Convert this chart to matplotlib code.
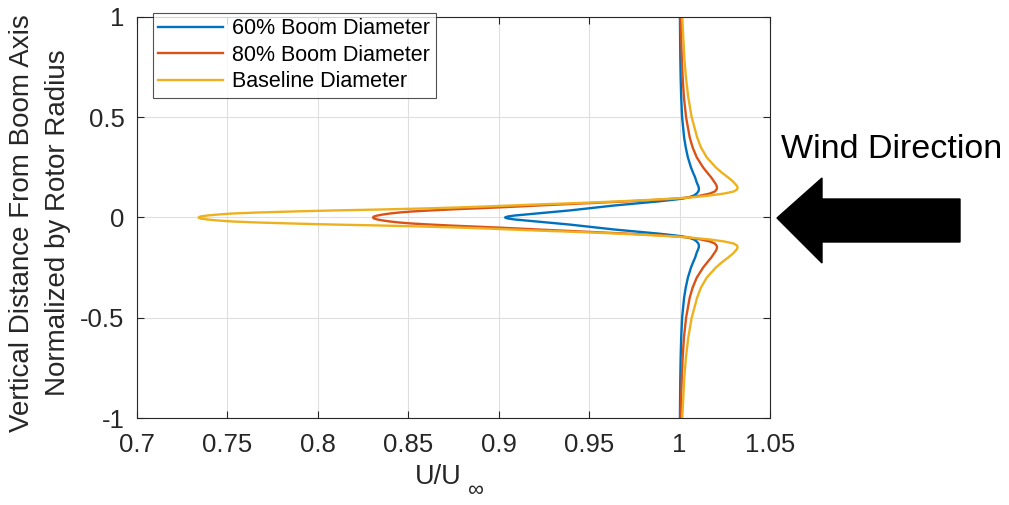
import numpy as np
import matplotlib
matplotlib.use("Agg")
import matplotlib.pyplot as plt
from matplotlib.patches import Polygon

plt.rcParams["font.family"] = ["Liberation Sans", "DejaVu Sans"]

# ----------------------------------
# Data (upper half of each profile)
# ----------------------------------
y_half = [0.000, 0.005, 0.010, 0.015, 0.020, 0.025, 0.030, 0.035, 0.040, 0.045,
          0.050, 0.055, 0.060, 0.065, 0.070, 0.075, 0.080, 0.085, 0.090, 0.095,
          0.100, 0.110, 0.120, 0.130, 0.140, 0.150, 0.160, 0.170, 0.180, 0.200,
          0.225, 0.250, 0.300, 0.350, 0.400, 0.500, 0.600, 0.700, 0.800, 1.000]

u_60 = [0.9035, 0.905, 0.909, 0.915, 0.921, 0.927, 0.933, 0.939, 0.944, 0.949,
        0.954, 0.959, 0.964, 0.970, 0.976, 0.982, 0.988, 0.993, 0.998, 1.002,
        1.005, 1.008, 1.0095, 1.0104, 1.0107, 1.0106, 1.0102, 1.0097, 1.0093, 1.0086,
        1.0074, 1.0063, 1.0046, 1.0034, 1.0025, 1.0014, 1.0009, 1.0006, 1.0004, 1.0002]

u_80 = [0.8305, 0.831, 0.833, 0.836, 0.840, 0.845, 0.852, 0.862, 0.873, 0.886,
        0.899, 0.911, 0.922, 0.934, 0.946, 0.958, 0.970, 0.981, 0.991, 0.999,
        1.005, 1.012, 1.017, 1.0195, 1.0205, 1.0207, 1.0204, 1.0198, 1.019, 1.0175,
        1.0152, 1.013, 1.0095, 1.0072, 1.0056, 1.0036, 1.0024, 1.0017, 1.0012, 1.0006]

u_base = [0.734, 0.735, 0.739, 0.745, 0.753, 0.767, 0.786, 0.808, 0.835, 0.858,
          0.877, 0.893, 0.907, 0.921, 0.937, 0.952, 0.965, 0.977, 0.988, 0.998,
          1.006, 1.017, 1.025, 1.030, 1.0318, 1.0321, 1.0315, 1.0305, 1.0295, 1.0268,
          1.0232, 1.020, 1.015, 1.0118, 1.0097, 1.0067, 1.0048, 1.0035, 1.0026, 1.0015]

labels = ["60% Boom Diameter", "80% Boom Diameter", "Baseline Diameter"]
colors = ["#0072BD", "#D95319", "#EDB120"]

# profiles are symmetric about the boom axis
def mirror(vals, neg=False):
    v = np.array(vals)
    lower = -v[::-1] if neg else v[::-1]
    return np.concatenate([lower, v[1:]])

y_full = mirror(y_half, neg=True)

# ----------------------------------
# Plot
# ----------------------------------
W, H = 1009, 505
fig = plt.figure(figsize=(W / 100, H / 100), dpi=100)
ax = fig.add_axes([137 / W, 1 - 418 / H, 633 / W, 401 / H])

for u, lab, c in zip([u_60, u_80, u_base], labels, colors):
    ax.plot(mirror(u), y_full, color=c, lw=1.7, label=lab)

ax.set_xlim(0.7, 1.05)
ax.set_ylim(-1, 1)
ax.set_xticks([0.7, 0.75, 0.8, 0.85, 0.9, 0.95, 1.0, 1.05])
ax.set_xticklabels(["0.7", "0.75", "0.8", "0.85", "0.9", "0.95", "1", "1.05"])
ax.set_yticks([-1, -0.5, 0, 0.5, 1])
ax.set_yticklabels(["-1", "-0.5", "0", "0.5", "1"])
ax.grid(True, color="#dfdfdf", lw=0.8)
ax.set_axisbelow(True)
ax.tick_params(direction="in", top=True, right=True, labelsize=18.5,
               colors="#262626", length=5, width=0.8)
ax.tick_params(axis="x", pad=11)
ax.tick_params(axis="y", pad=9)
for sp in ax.spines.values():
    sp.set_color("#262626")
    sp.set_linewidth(0.8)

# x label with a low subscript infinity, as in the original
fig.text(438 / W, 1 - 477 / H, "U/U", fontsize=19.5, color="#262626",
         ha="center", va="center")
fig.text(475 / W, 1 - 491 / H, "\u221e", fontsize=16, color="#262626",
         ha="center", va="center")

fig.text(22 / W, 1 - 223 / H, "Vertical Distance From Boom Axis", fontsize=20,
         color="#262626", rotation=90, ha="center", va="center")
fig.text(58 / W, 1 - 223 / H, "Normalized by Rotor Radius", fontsize=20,
         color="#262626", rotation=90, ha="center", va="center")

leg = ax.legend(loc="upper left", bbox_to_anchor=(0.025, 1.01), fontsize=15.5,
                frameon=True, fancybox=False, edgecolor="#262626",
                handlelength=3.0, handletextpad=0.45, borderpad=0.25,
                labelspacing=0.25, borderaxespad=0)
leg.get_frame().set_linewidth(0.8)

# wind direction arrow and label
pts = [(777, 218), (822, 178), (822, 199), (960, 199),
       (960, 242), (822, 242), (822, 263)]
arrow = Polygon([(x / W, 1 - y / H) for x, y in pts], closed=True,
                transform=fig.transFigure, facecolor="black", edgecolor="black")
fig.add_artist(arrow)
fig.text(892 / W, 1 - 150 / H, "Wind Direction", fontsize=24.5,
         ha="center", va="center", color="black")

plt.savefig("out.png", dpi=100)
